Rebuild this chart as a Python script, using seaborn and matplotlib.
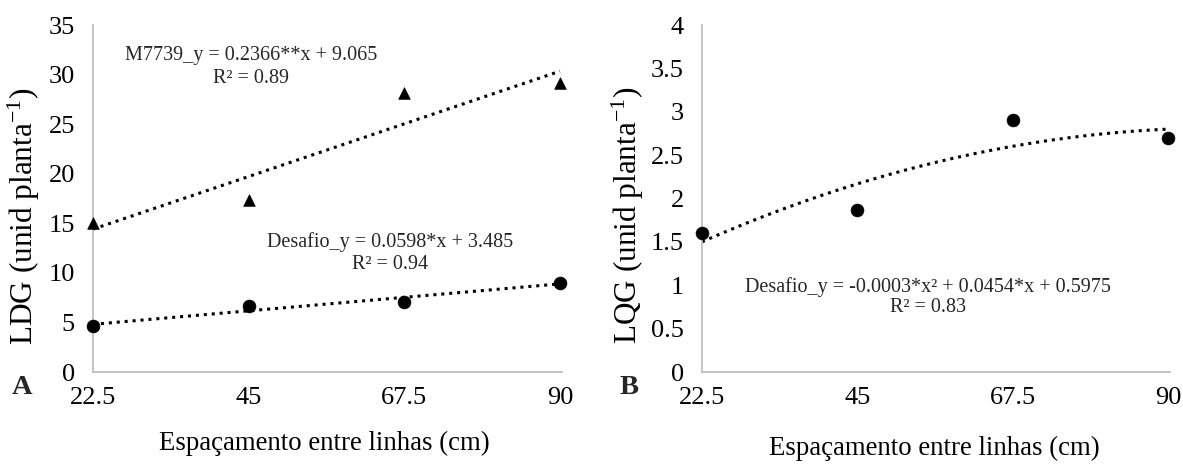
import numpy as np
import pandas as pd
import matplotlib
matplotlib.use("Agg")
import matplotlib.pyplot as plt
import seaborn as sns

# Data
espacamento = [22.5, 45, 67.5, 90]
ldg_m7739 = [15.0, 17.3, 28.1, 29.1]
ldg_desafio = [4.6, 6.7, 7.1, 9.0]
lqg_desafio = [1.6, 1.87, 2.9, 2.7]

xticks = [22.5, 45, 67.5, 90]
xticklabels = ["22.5", "45", "67.5", "90"]
yticks_a = [0, 5, 10, 15, 20, 25, 30, 35]
yticks_b = [0, 0.5, 1, 1.5, 2, 2.5, 3, 3.5, 4]
yticklabels_b = ["0", "0.5", "1", "1.5", "2", "2.5", "3", "3.5", "4"]

sns.set_theme(style="white")
plt.rcParams["font.family"] = ["Liberation Serif", "DejaVu Serif"]
plt.rcParams["mathtext.fontset"] = "custom"
plt.rcParams["mathtext.rm"] = "Liberation Serif"
plt.rcParams["mathtext.it"] = "Liberation Serif:italic"

W, H = 1183, 465
fig = plt.figure(figsize=(W / 100, H / 100), dpi=100)
ax1 = fig.add_axes([93 / W, 93 / H, 469 / W, 347 / H])
ax2 = fig.add_axes([702 / W, 93 / H, 468 / W, 347 / H])

gray = "#BFBFBF"
line_kws = dict(ls=(0, (1, 1.6)), lw=2.2, color="black")
sc_tri = dict(s=70, clip_on=False, zorder=3, alpha=1, edgecolor="black", linewidths=0.5)
sc_cir = dict(s=85, clip_on=False, zorder=3, alpha=1, edgecolor="black", linewidths=0.5)

df_a = pd.DataFrame({"x": espacamento, "m": ldg_m7739, "d": ldg_desafio})
sns.regplot(data=df_a, x="x", y="m", ax=ax1, ci=None, marker="^", color="black",
            scatter_kws=sc_tri, line_kws=line_kws)
sns.regplot(data=df_a, x="x", y="d", ax=ax1, ci=None, marker="o", color="black",
            scatter_kws=sc_cir, line_kws=line_kws)

df_b = pd.DataFrame({"x": espacamento, "d": lqg_desafio})
sns.regplot(data=df_b, x="x", y="d", ax=ax2, ci=None, order=2, marker="o", color="black",
            scatter_kws=sc_cir, line_kws=line_kws)

for ax in (ax1, ax2):
    ax.set_xlim(22.5, 90.3)
    ax.set_xticks(xticks)
    ax.set_xticklabels(xticklabels)
    for s in ("top", "right"):
        ax.spines[s].set_visible(False)
    for s in ("left", "bottom"):
        ax.spines[s].set_color(gray)
        ax.spines[s].set_linewidth(1.3)
    ax.tick_params(axis="both", direction="inout", length=14, width=1.3, color=gray,
                   labelsize=19, labelcolor="black", pad=4)
    ax.tick_params(axis="y", pad=6)
    ax.set_xlabel("Espaçamento entre linhas (cm)", fontsize=19.3, color="black")
    ax.xaxis.label.set_va("center")
    ax.grid(False)

ax1.set_ylim(0, 35)
ax1.set_yticks(yticks_a)
ax1.set_yticklabels([str(v) for v in yticks_a])
ax1.set_ylabel(r"LDG (unid planta$^{\mathregular{-1}}$)", fontsize=22.5, color="black")
ax1.yaxis.label.set_va("center")
ax1.yaxis.set_label_coords(-0.147, 0.45)
ax1.xaxis.set_label_coords(0.4925, -0.205)

ax2.set_ylim(0, 4)
ax2.set_yticks(yticks_b)
ax2.set_yticklabels(yticklabels_b)
ax2.set_ylabel(r"LQG (unid planta$^{\mathregular{-1}}$)", fontsize=22.5, color="black")
ax2.yaxis.label.set_va("center")
ax2.yaxis.set_label_coords(-0.158, 0.452)
ax2.xaxis.set_label_coords(0.496, -0.219)

ax1.text(45.4, 31.95, "M7739_y = 0.2366**x + 9.065", ha="center", va="center", fontsize=14.5)
ax1.text(45.4, 29.6, "R² = 0.89", ha="center", va="center", fontsize=14.5)
ax1.text(65.4, 13.1, "Desafio_y = 0.0598*x + 3.485", ha="center", va="center", fontsize=14.5)
ax1.text(65.4, 10.8, "R² = 0.94", ha="center", va="center", fontsize=14.5)

ax2.text(55.3, 0.975, "Desafio_y = -0.0003*x² + 0.0454*x + 0.5975", ha="center", va="center", fontsize=14.5)
ax2.text(55.3, 0.74, "R² = 0.83", ha="center", va="center", fontsize=14.5)

fig.text(12 / W, 1 - 387 / H, "A", fontsize=20.5, fontweight="bold", ha="left", va="center")
fig.text(620 / W, 1 - 387 / H, "B", fontsize=20.5, fontweight="bold", ha="left", va="center")

fig.savefig("out.png", dpi=100, facecolor="white")
